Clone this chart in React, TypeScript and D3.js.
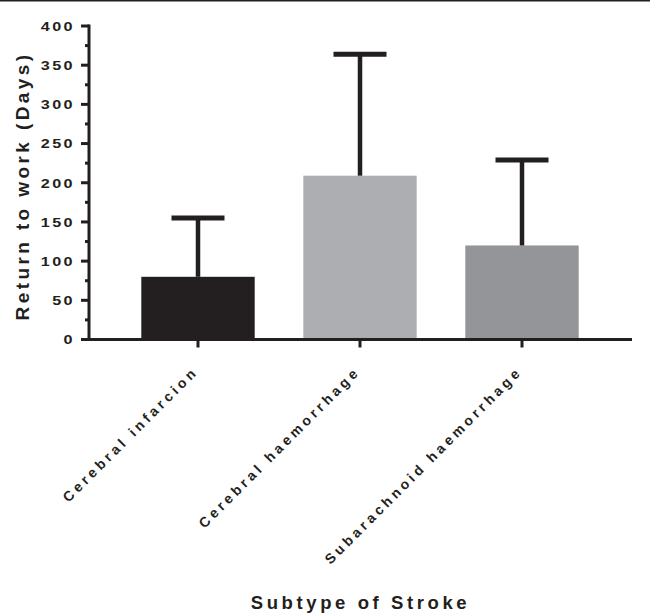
import React, { useEffect, useRef } from "react";
import * as d3 from "d3";

// data
const subtypes = ["Cerebral infarcion", "Cerebral haemorrhage", "Subarachnoid haemorrhage"];
const meanDays = [80, 209, 120];
const upperDays = [155, 364, 229];
const barColors = ["#231f20", "#adaeb1", "#939598"];
const yTicks = [0, 50, 100, 150, 200, 250, 300, 350, 400];
const yMinorTicks = [25, 75, 125, 175, 225, 275, 325, 375];

const W = 650;
const H = 616;
const ink = "#231f20";
const font = "'Liberation Sans', Arial, Helvetica, sans-serif";

export default function App() {
  const svgRef = useRef<SVGSVGElement | null>(null);

  useEffect(() => {
    const svg = d3.select(svgRef.current);
    svg.selectAll("*").remove();

    // top rule of the figure
    svg.append("line").attr("x1", 0).attr("x2", W).attr("y1", 0.75).attr("y2", 0.75)
      .attr("stroke", ink).attr("stroke-width", 1.5);

    const axisX0 = 89;
    const axisX1 = 632;
    const y = d3.scaleLinear().domain([0, 400]).range([339.5, 26]);
    const x = d3.scaleBand<string>().domain(subtypes).range([117, 603])
      .paddingInner(0.3).paddingOuter(0.15);

    const g = svg.append("g");

    // bars
    g.selectAll(".bar").data(subtypes).enter().append("rect")
      .attr("class", "bar")
      .attr("x", (d) => x(d)!)
      .attr("width", x.bandwidth())
      .attr("y", (d, i) => y(meanDays[i]))
      .attr("height", (d, i) => y(0) - y(meanDays[i]))
      .attr("fill", (d, i) => barColors[i]);

    // error bars (upper only)
    const capW = 53;
    subtypes.forEach((d, i) => {
      const cx = x(d)! + x.bandwidth() / 2;
      g.append("line").attr("x1", cx).attr("x2", cx)
        .attr("y1", y(meanDays[i])).attr("y2", y(upperDays[i]))
        .attr("stroke", ink).attr("stroke-width", 4.5);
      g.append("line").attr("x1", cx - capW / 2).attr("x2", cx + capW / 2)
        .attr("y1", y(upperDays[i])).attr("y2", y(upperDays[i]))
        .attr("stroke", ink).attr("stroke-width", 5);
    });

    // y axis
    const yAxis = g.append("g").attr("transform", `translate(${axisX0},0)`);
    yAxis.append("line").attr("x1", 0).attr("x2", 0).attr("y1", y(400) - 1.5).attr("y2", y(0) + 1.5)
      .attr("stroke", ink).attr("stroke-width", 3);
    yAxis.selectAll(".major").data(yTicks).enter().append("line")
      .attr("x1", -8).attr("x2", 0).attr("y1", (d) => y(d)).attr("y2", (d) => y(d))
      .attr("stroke", ink).attr("stroke-width", 3);
    yAxis.selectAll(".minor").data(yMinorTicks).enter().append("line")
      .attr("x1", -4).attr("x2", 0).attr("y1", (d) => y(d)).attr("y2", (d) => y(d))
      .attr("stroke", ink).attr("stroke-width", 3);
    // tick labels look a bit wide in the source
    yAxis.selectAll(".lbl").data(yTicks).enter().append("text")
      .attr("transform", (d) => `translate(-14,${y(d)}) scale(1.2,1)`)
      .attr("dy", "0.36em")
      .attr("text-anchor", "end")
      .attr("font-family", font).attr("font-weight", "bold").attr("font-size", 13.5)
      .attr("letter-spacing", 2).attr("fill", ink)
      .text((d) => d);

    // x axis
    const xAxis = g.append("g").attr("transform", `translate(0,${y(0)})`);
    xAxis.append("line").attr("x1", axisX0 - 1.5).attr("x2", axisX1).attr("y1", 0).attr("y2", 0)
      .attr("stroke", ink).attr("stroke-width", 3);
    subtypes.forEach((d) => {
      const cx = x(d)! + x.bandwidth() / 2;
      xAxis.append("line").attr("x1", cx).attr("x2", cx).attr("y1", 0).attr("y2", 8)
        .attr("stroke", ink).attr("stroke-width", 3);
      xAxis.append("text")
        .attr("transform", `translate(${cx + 1},${33}) rotate(-45)`)
        .attr("text-anchor", "end")
        .attr("font-family", font).attr("font-weight", "bold").attr("font-size", 14)
        .attr("letter-spacing", 3.6).attr("fill", ink)
        .text(d);
    });

    // axis titles
    svg.append("text")
      .attr("transform", `translate(29,${186}) rotate(-90)`)
      .attr("text-anchor", "middle")
      .attr("font-family", font).attr("font-weight", "bold").attr("font-size", 19)
      .attr("letter-spacing", 3.4).attr("fill", ink)
      .text("Return to work (Days)");
    svg.append("text")
      .attr("x", (axisX0 + axisX1) / 2).attr("y", 609)
      .attr("text-anchor", "middle")
      .attr("font-family", font).attr("font-weight", "bold").attr("font-size", 18.5)
      .attr("letter-spacing", 3.6).attr("fill", ink)
      .text("Subtype of Stroke");
  }, []);

  return (
    <svg ref={svgRef} width={W} height={H}
      style={{ position: "absolute", left: 0, top: 0, background: "#fff" }} />
  );
}
